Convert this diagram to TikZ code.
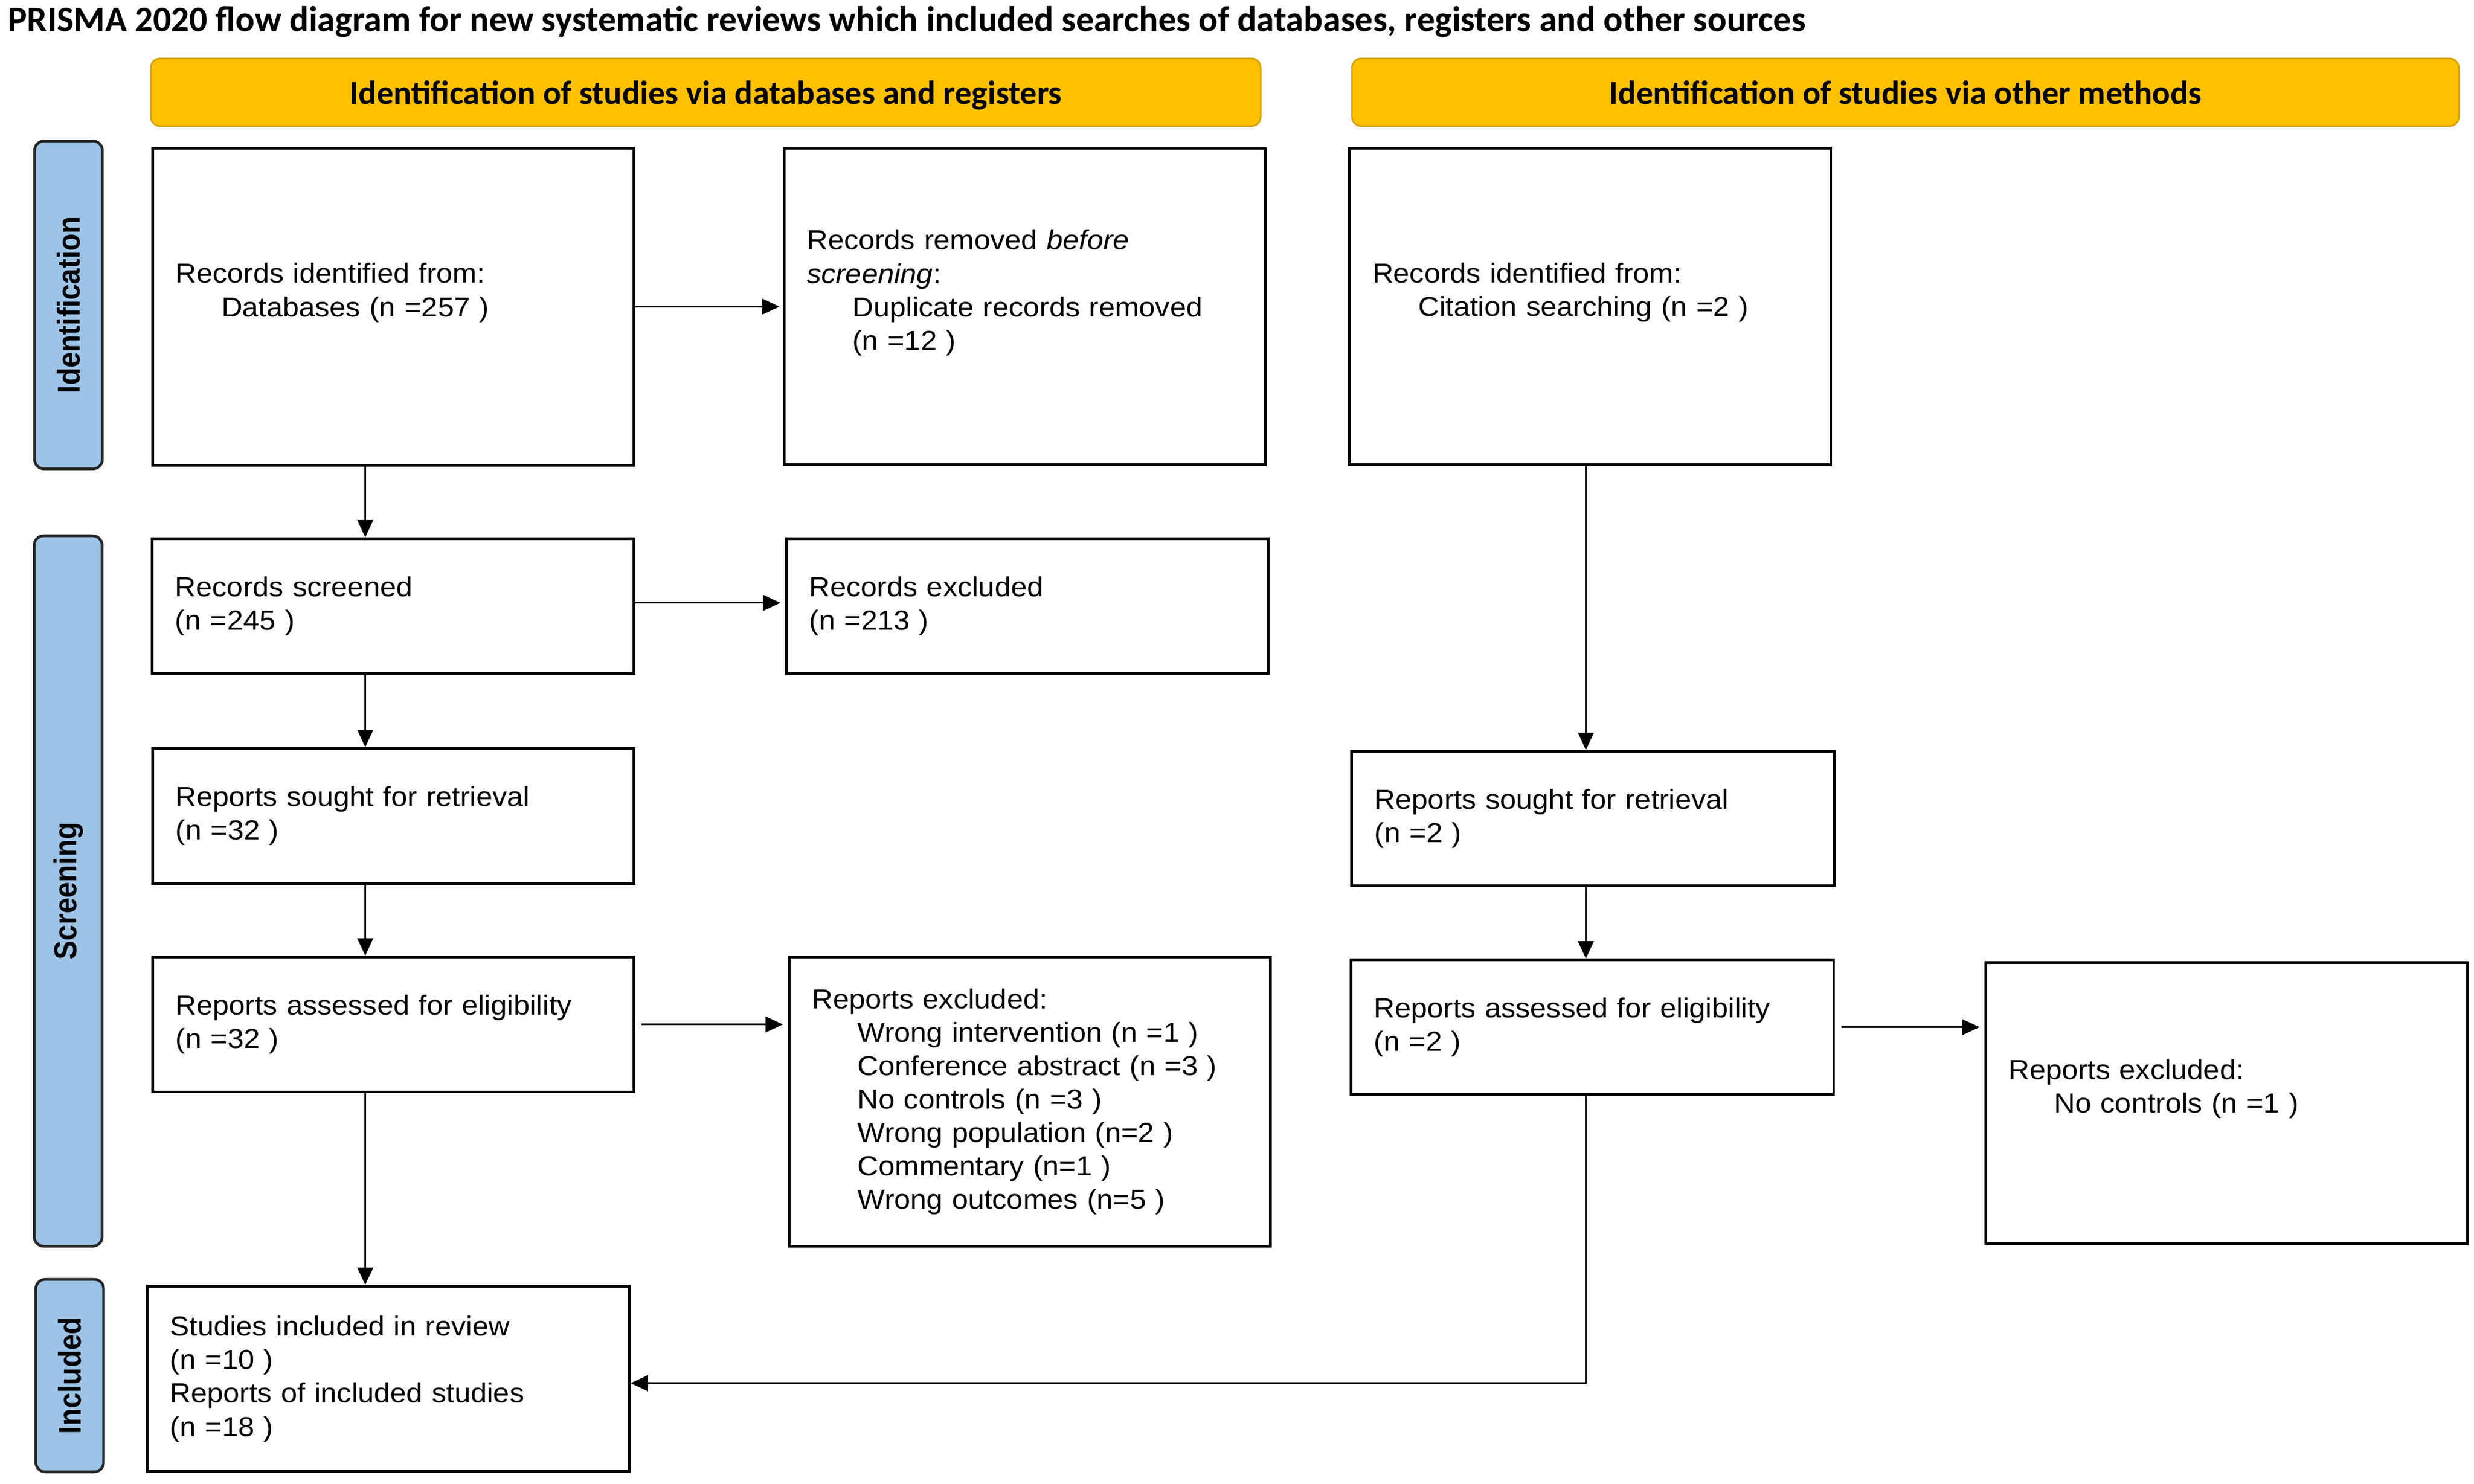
\documentclass[tikz,border=0pt]{standalone}
\usepackage{fontspec}
\setmainfont{Liberation Sans}
\newfontfamily\boxfont{Liberation Sans}[FakeStretch=1.06]
\newfontfamily\calfont{Carlito}
\newfontfamily\sidefont{Liberation Sans}[FakeStretch=0.9]
\usetikzlibrary{arrows.meta,calc}
\definecolor{hdryellow}{RGB}{255,192,0}
\definecolor{hdredge}{RGB}{214,160,0}
\definecolor{sideblue}{RGB}{157,195,230}
\tikzset{
  box/.style={draw=black, line width=1.7pt, rectangle, anchor=north west,
    inner xsep=14.5pt, inner ysep=0pt, align=left,
    font=\boxfont\fontsize{17.4}{21.2}\selectfont},
  hdr/.style={draw=hdredge, line width=1pt, fill=hdryellow, rounded corners=6pt,
    minimum height=43pt, inner sep=0pt, text depth=0pt,
    font=\calfont\bfseries\fontsize{21.3}{25}\selectfont},
  sidebar/.style={draw=black!85, line width=1.7pt, fill=sideblue, rounded corners=6pt,
    minimum height=43pt, inner sep=0pt, rotate=90,
    font=\sidefont\bfseries\fontsize{20}{24}\selectfont},
  arr/.style={draw=black, line width=1pt, -{Triangle[length=11pt,width=10pt]}},
}
\begin{document}
\begin{tikzpicture}[x=1pt,y=-1pt]
\useasboundingbox (0,0) rectangle (1568,940.4);
\fill[white] (0,0) rectangle (1568,940.4);

% title
\node[anchor=west, inner sep=0pt, font=\calfont\bfseries\fontsize{22.7}{27}\selectfont] (title) at (5,14)
  {PRISMA 2020 flow diagram for new systematic reviews which included searches of databases, registers and other sources};

% headers
\node[hdr, minimum width=703.5pt] (h1) at (447.3,58.5) {Identification of studies via databases and registers};
\node[hdr, minimum width=701.5pt] (h2) at (1207.6,58.5) {Identification of studies via other methods};

% side bars
\node[sidebar, minimum width=207.8pt] (s1) at (43.4,193.3) {Identification};
\node[sidebar, minimum width=450.4pt] (s2) at (43.2,564.8) {Screening};
\node[sidebar, minimum width=122pt] (s3) at (44.2,872) {Included};

% boxes
\node[box, text width=276pt, minimum height=201pt] (A) at (96,93)
  {Records identified from:\\\hspace*{29pt}Databases (n =257 )\\\mbox{}};
\node[box, text width=276pt, minimum height=200.5pt] (B) at (496,93.3)
  {Records removed \textit{before}\\\textit{screening}:\\\hspace*{29pt}Duplicate records removed\\\hspace*{29pt}(n =12 )\\\mbox{}};
\node[box, text width=276pt, minimum height=200.5pt] (C) at (854.5,93.1)
  {Records identified from:\\\hspace*{29pt}Citation searching (n =2 )\\\mbox{}};
\node[box, text width=276.2pt, minimum height=85.4pt] (D) at (95.7,340.6)
  {Records screened\\(n =245 )};
\node[box, text width=276.2pt, minimum height=85.4pt] (E) at (497.6,340.6)
  {Records excluded\\(n =213 )};
\node[box, text width=276pt, minimum height=85.6pt] (F) at (96,473.6)
  {Reports sought for retrieval\\(n =32 )};
\node[box, text width=276pt, minimum height=85.5pt] (G) at (96,605.8)
  {Reports assessed for eligibility\\(n =32 )};
\node[box, text width=276.1pt, minimum height=183.5pt] (H) at (499.2,605.8)
  {Reports excluded:\\
   \hspace*{29pt}Wrong intervention (n =1 )\\
   \hspace*{29pt}Conference abstract (n =3 )\\
   \hspace*{29pt}No controls (n =3 )\\
   \hspace*{29pt}Wrong population (n=2 )\\
   \hspace*{29pt}Commentary (n=1 )\\
   \hspace*{29pt}Wrong outcomes (n=5 )};
\node[box, text width=277pt, minimum height=85.3pt] (I) at (855.9,475.4)
  {Reports sought for retrieval\\(n =2 )};
\node[box, text width=276.8pt, minimum height=85.3pt] (J) at (855.5,607.6)
  {Reports assessed for eligibility\\(n =2 )};
\node[box, text width=276.6pt, minimum height=178.2pt] (K) at (1257.6,609.2)
  {Reports excluded:\\\hspace*{29pt}No controls (n =1 )\\\mbox{}};
\node[box, text width=276.6pt, minimum height=117.5pt] (L) at (92.4,814.5)
  {Studies included in review\\(n =10 )\\Reports of included studies\\(n =18 )};

% column coordinates
\coordinate (colL) at (231.5,0);
\coordinate (colR) at (1005.1,0);

% connectors
\draw[arr, shorten >=2pt] (A.east) -- (B.west);
\draw[arr] (A.south -| colL) -- (D.north -| colL);
\draw[arr, shorten >=3pt] ($(D.east)+(0,-2)$) -- ($(E.west)+(0,-2)$);
\draw[arr] (D.south -| colL) -- (F.north -| colL);
\draw[arr] (F.south -| colL) -- (G.north -| colL);
\draw[arr, shorten <=4pt, shorten >=3pt] (G.east) -- (G.east -| H.west);
\draw[arr] (G.south -| colL) -- (L.north -| colL);
\draw[arr] (C.south -| colR) -- (I.north -| colR);
\draw[arr] (I.south -| colR) -- (J.north -| colR);
\draw[arr, shorten <=4pt, shorten >=3pt] (J.east) -- (J.east -| K.west);
\draw[arr] (J.south -| colR) |- ($(L.east)+(0,2.7)$);
\end{tikzpicture}
\end{document}
